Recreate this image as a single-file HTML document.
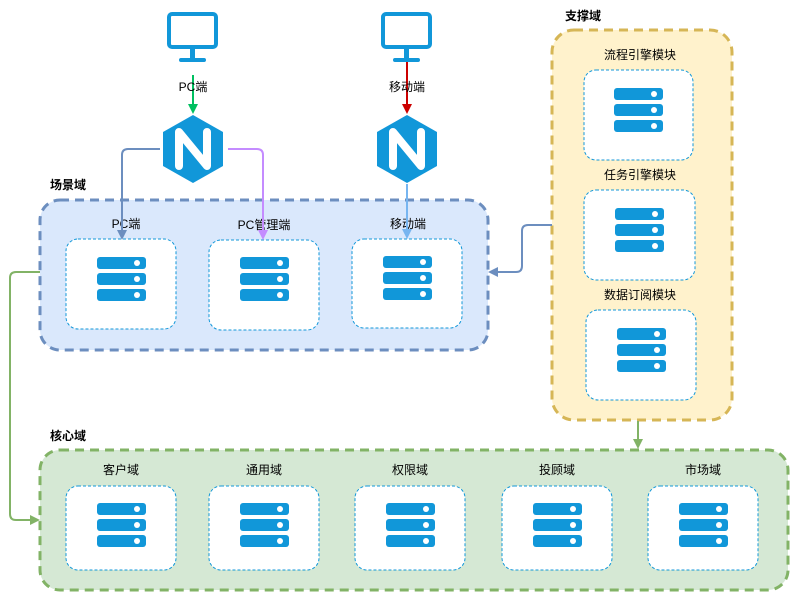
<!DOCTYPE html><html><head><meta charset="utf-8"><style>body{margin:0;background:#fff}svg text{font-family:"Liberation Sans","Noto Sans CJK SC",sans-serif;font-size:12px;fill:#000}</style></head><body>
<svg width="790" height="592" viewBox="0 0 790 592" xmlns="http://www.w3.org/2000/svg">
<defs>
<g id="srv"><rect x="0" y="0" width="49" height="12" rx="3" fill="#1197d9"/><rect x="0" y="16" width="49" height="12" rx="3" fill="#1197d9"/><rect x="0" y="32" width="49" height="12" rx="3" fill="#1197d9"/><circle cx="40" cy="6" r="3" fill="#fff"/><circle cx="40" cy="22" r="3" fill="#fff"/><circle cx="40" cy="38" r="3" fill="#fff"/></g>
<g id="mon"><rect x="2" y="2" width="47" height="33" rx="3" fill="none" stroke="#1197d9" stroke-width="4"/><rect x="23" y="35" width="5" height="12" fill="#1197d9"/><rect x="12" y="46" width="27" height="4" rx="2" fill="#1197d9"/></g>
<g id="ngx"><polygon points="0,-34 30,-17 30,17 0,34 -30,17 -30,-17" fill="#1197d9"/><path d="M-14,17 V-17 L14,17 V-17" fill="none" stroke="#fff" stroke-width="8" stroke-linejoin="round" stroke-linecap="round"/></g>
</defs>
<rect x="40" y="200" width="448" height="150" rx="20" fill="#dae8fc" stroke="#6c8ebf" stroke-width="3" stroke-dasharray="9,6"/>
<text x="50" y="189" font-weight="bold">场景域</text>
<rect x="552" y="30" width="180" height="390" rx="22" fill="#fff2cc" stroke="#d6b656" stroke-width="3" stroke-dasharray="9,6"/>
<text x="565" y="20" font-weight="bold">支撑域</text>
<rect x="40" y="450" width="748" height="140" rx="20" fill="#d5e8d4" stroke="#82b366" stroke-width="3" stroke-dasharray="9,6"/>
<text x="50" y="440" font-weight="bold">核心域</text>
<g fill="#fff" stroke="#1197d9" stroke-dasharray="3,2">
<rect x="66" y="239" width="110" height="90" rx="12"/><rect x="209" y="240" width="110" height="90" rx="12"/><rect x="352" y="239" width="110" height="89" rx="12"/>
<rect x="584" y="70" width="109" height="90" rx="12"/><rect x="584" y="190" width="111" height="90" rx="12"/><rect x="586" y="310" width="110" height="90" rx="12"/>
<rect x="66" y="486" width="110" height="84" rx="12"/><rect x="209" y="486" width="110" height="84" rx="12"/><rect x="355" y="486" width="110" height="84" rx="12"/><rect x="502" y="486" width="110" height="84" rx="12"/><rect x="648" y="486" width="110" height="84" rx="12"/>
</g>
<use href="#srv" x="97" y="257"/><use href="#srv" x="240" y="257"/><use href="#srv" x="383" y="256"/>
<use href="#srv" x="614" y="88"/><use href="#srv" x="615" y="208"/><use href="#srv" x="617" y="328"/>
<use href="#srv" x="97" y="503"/><use href="#srv" x="240" y="503"/><use href="#srv" x="386" y="503"/><use href="#srv" x="533" y="503"/><use href="#srv" x="679" y="503"/>
<g text-anchor="middle">
<text x="126" y="228">PC端</text><text x="264" y="229">PC管理端</text><text x="408" y="228">移动端</text>
<text x="640" y="59">流程引擎模块</text><text x="640" y="179">任务引擎模块</text><text x="640" y="299">数据订阅模块</text>
<text x="121" y="474">客户域</text><text x="264" y="474">通用域</text><text x="410" y="474">权限域</text><text x="557" y="474">投顾域</text><text x="703" y="474">市场域</text>
</g>
<use href="#mon" x="167" y="12"/><use href="#mon" x="381" y="12"/>
<use href="#ngx" x="193" y="149"/><use href="#ngx" x="407" y="149"/>
<g fill="none" stroke-width="2">
<path d="M193,75 V106" stroke="#00c060"/><path d="M407,62 V106" stroke="#cc0000"/>
<path d="M160,149 H128 Q122,149 122,155 V232" stroke="#6c8ebf"/>
<path d="M228,149 H257 Q263,149 263,155 V232" stroke="#c48cff"/>
<path d="M407,184 V232" stroke="#77b5f0"/>
<path d="M552,225 H528 Q522,225 522,231 V266 Q522,272 516,272 H496" stroke="#6c8ebf"/>
<path d="M638,421 V441" stroke="#82b366"/>
<path d="M40,272 H16 Q10,272 10,278 V514 Q10,520 16,520 H32" stroke="#82b366"/>
</g>
<polygon points="188,104 198,104 193,114" fill="#00c060"/>
<polygon points="402,104 412,104 407,114" fill="#cc0000"/>
<polygon points="117,230 127,230 122,240" fill="#6c8ebf"/>
<polygon points="258,230 268,230 263,240" fill="#c48cff"/>
<polygon points="402,229 412,229 407,239" fill="#77b5f0"/>
<polygon points="498,267 498,277 488,272" fill="#6c8ebf"/>
<polygon points="633,439 643,439 638,449" fill="#82b366"/>
<polygon points="30,515 30,525 40,520" fill="#82b366"/>
<text x="193" y="91" text-anchor="middle">PC端</text>
<text x="407" y="91" text-anchor="middle">移动端</text>
</svg></body></html>
